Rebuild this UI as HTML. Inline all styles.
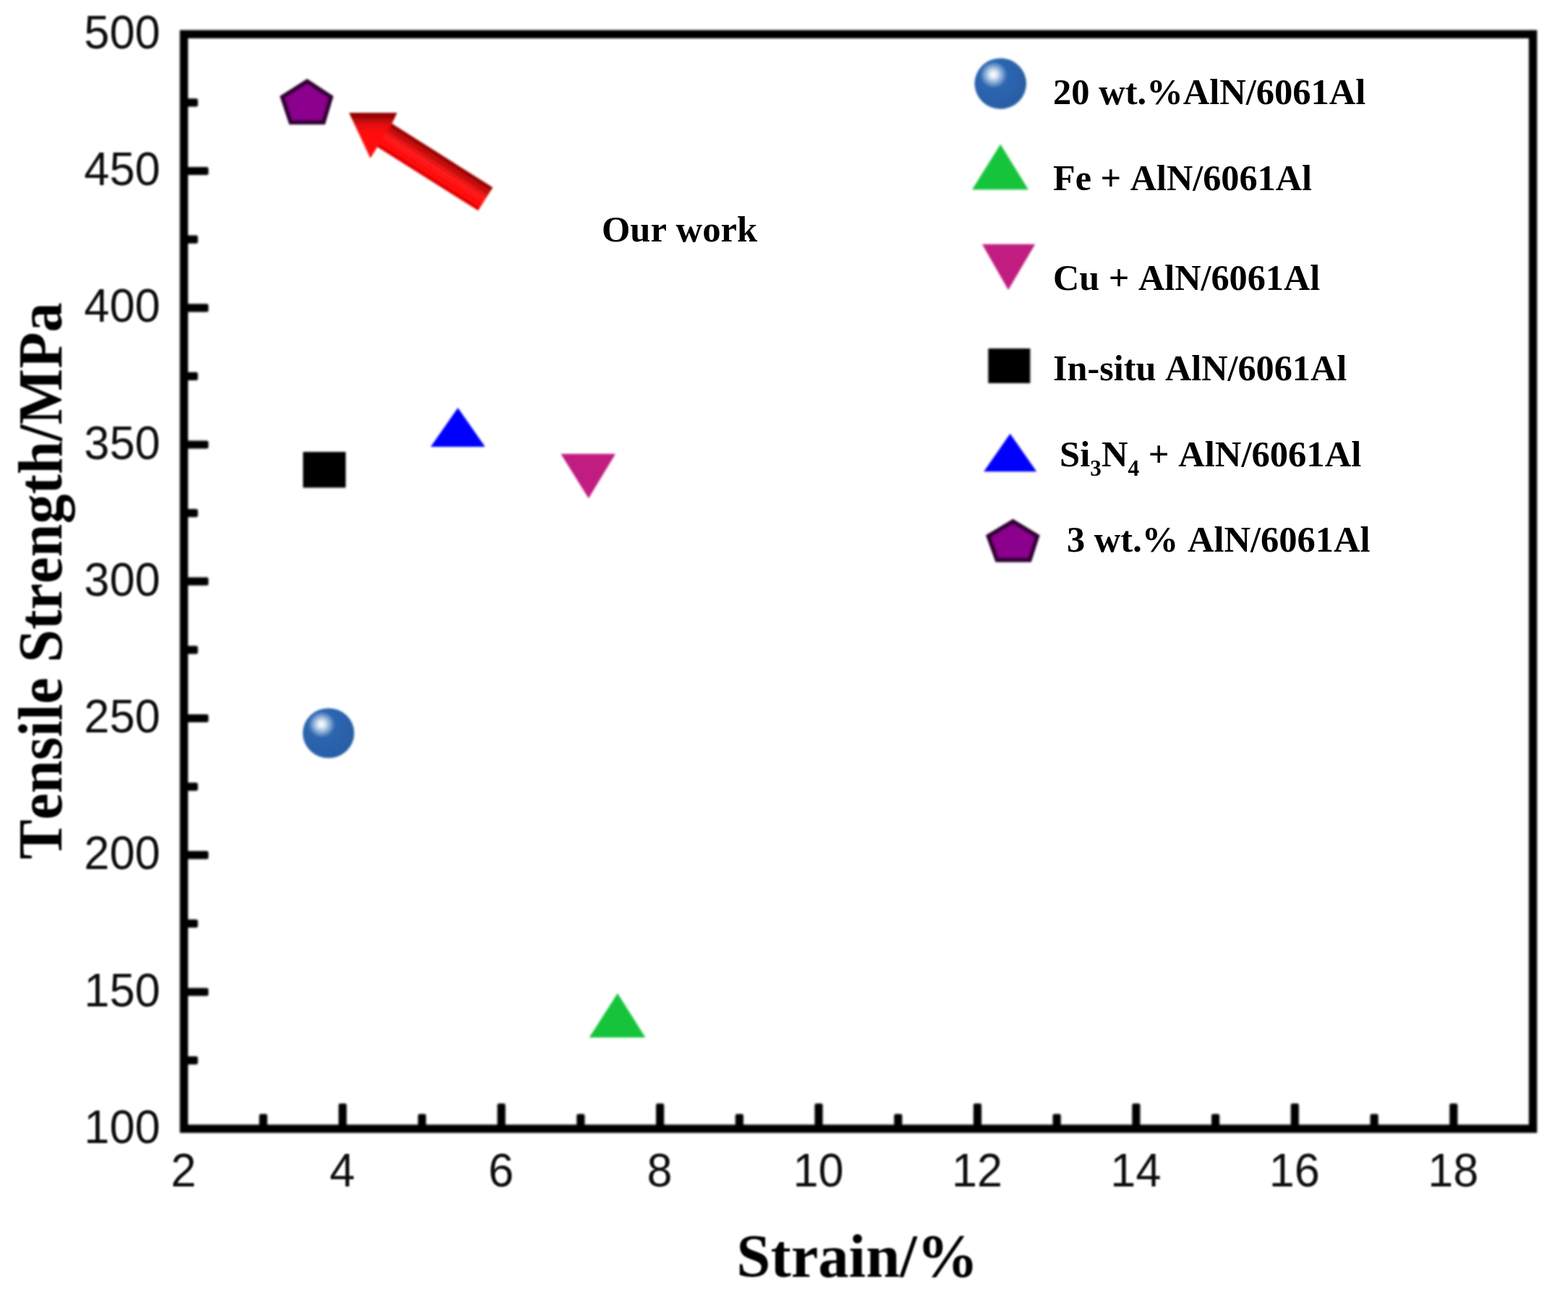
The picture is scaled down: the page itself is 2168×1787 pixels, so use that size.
<!DOCTYPE html>
<html lang="en">
<head>
<meta charset="utf-8">
<title>Tensile Strength vs Strain</title>
<style>
html,body{margin:0;padding:0;background:#fff;}
body{width:2168px;height:1787px;overflow:hidden;}
svg{display:block;}
.tick{font-family:"Liberation Sans",Arial,sans-serif;font-size:64px;fill:#0c0c0c;font-kerning:none;}
.lab{font-family:"Liberation Serif","Times New Roman",serif;font-weight:bold;fill:#000;font-kerning:none;}
.leg{font-size:50px;}
.ax{font-size:86px;}
</style>
</head>
<body>
<svg width="2168" height="1787" viewBox="0 0 2168 1787">
<defs>
<filter id="soft" x="-5%" y="-5%" width="110%" height="110%"><feGaussianBlur stdDeviation="1.4"/></filter>
<filter id="softk" x="-5%" y="-5%" width="110%" height="110%"><feGaussianBlur stdDeviation="1.0"/></filter>
<filter id="softm" x="-20%" y="-20%" width="140%" height="140%"><feGaussianBlur stdDeviation="1.6"/></filter>
<filter id="softt" x="-5%" y="-20%" width="110%" height="140%"><feGaussianBlur stdDeviation="0.8"/></filter>
<radialGradient id="sph" cx="0.38" cy="0.34" r="0.62" fx="0.36" fy="0.32">
<stop offset="0" stop-color="#ffffff"/>
<stop offset="0.1" stop-color="#e4ecf5"/>
<stop offset="0.28" stop-color="#7ba2d2"/>
<stop offset="0.42" stop-color="#2c66b0"/>
<stop offset="1" stop-color="#285fa6"/>
</radialGradient>
<linearGradient id="shaft" gradientUnits="userSpaceOnUse" x1="0" y1="-19" x2="0" y2="19">
<stop offset="0" stop-color="#8e0000"/>
<stop offset="0.25" stop-color="#c80d0d"/>
<stop offset="0.5" stop-color="#ff1c1c"/>
<stop offset="0.8" stop-color="#ff0a0a"/>
<stop offset="1" stop-color="#d80000"/>
</linearGradient>
<linearGradient id="head" gradientUnits="userSpaceOnUse" x1="0" y1="156" x2="0" y2="219">
<stop offset="0" stop-color="#8a0000"/>
<stop offset="0.12" stop-color="#a80606"/>
<stop offset="0.28" stop-color="#e80c0c"/>
<stop offset="0.45" stop-color="#ff1010"/>
<stop offset="1" stop-color="#ff0505"/>
</linearGradient>
</defs>
<rect x="0" y="0" width="2168" height="1787" fill="#ffffff"/>

<g filter="url(#soft)" fill="none" stroke="#000" stroke-width="11.4">
<rect x="254.3" y="47.3" width="1865.2" height="1513.9" stroke-linejoin="miter"/>
<rect x="254.3" y="1461.0" width="19.3" height="11.2" rx="2.5" fill="#000" stroke="none"/>
<rect x="254.3" y="1366.4" width="33.9" height="11.2" rx="2.5" fill="#000" stroke="none"/>
<rect x="254.3" y="1271.7" width="19.3" height="11.2" rx="2.5" fill="#000" stroke="none"/>
<rect x="254.3" y="1177.1" width="33.9" height="11.2" rx="2.5" fill="#000" stroke="none"/>
<rect x="254.3" y="1082.5" width="19.3" height="11.2" rx="2.5" fill="#000" stroke="none"/>
<rect x="254.3" y="987.9" width="33.9" height="11.2" rx="2.5" fill="#000" stroke="none"/>
<rect x="254.3" y="893.3" width="19.3" height="11.2" rx="2.5" fill="#000" stroke="none"/>
<rect x="254.3" y="798.6" width="33.9" height="11.2" rx="2.5" fill="#000" stroke="none"/>
<rect x="254.3" y="704.0" width="19.3" height="11.2" rx="2.5" fill="#000" stroke="none"/>
<rect x="254.3" y="609.4" width="33.9" height="11.2" rx="2.5" fill="#000" stroke="none"/>
<rect x="254.3" y="514.8" width="19.3" height="11.2" rx="2.5" fill="#000" stroke="none"/>
<rect x="254.3" y="420.2" width="33.9" height="11.2" rx="2.5" fill="#000" stroke="none"/>
<rect x="254.3" y="325.6" width="19.3" height="11.2" rx="2.5" fill="#000" stroke="none"/>
<rect x="254.3" y="230.9" width="33.9" height="11.2" rx="2.5" fill="#000" stroke="none"/>
<rect x="254.3" y="136.3" width="19.3" height="11.2" rx="2.5" fill="#000" stroke="none"/>
<rect x="358.4" y="1540.8" width="11.2" height="20.4" rx="2.5" fill="#000" stroke="none"/>
<rect x="468.1" y="1526.3" width="11.2" height="34.9" rx="2.5" fill="#000" stroke="none"/>
<rect x="577.9" y="1540.8" width="11.2" height="20.4" rx="2.5" fill="#000" stroke="none"/>
<rect x="687.6" y="1526.3" width="11.2" height="34.9" rx="2.5" fill="#000" stroke="none"/>
<rect x="797.3" y="1540.8" width="11.2" height="20.4" rx="2.5" fill="#000" stroke="none"/>
<rect x="907.0" y="1526.3" width="11.2" height="34.9" rx="2.5" fill="#000" stroke="none"/>
<rect x="1016.7" y="1540.8" width="11.2" height="20.4" rx="2.5" fill="#000" stroke="none"/>
<rect x="1126.4" y="1526.3" width="11.2" height="34.9" rx="2.5" fill="#000" stroke="none"/>
<rect x="1236.2" y="1540.8" width="11.2" height="20.4" rx="2.5" fill="#000" stroke="none"/>
<rect x="1345.9" y="1526.3" width="11.2" height="34.9" rx="2.5" fill="#000" stroke="none"/>
<rect x="1455.6" y="1540.8" width="11.2" height="20.4" rx="2.5" fill="#000" stroke="none"/>
<rect x="1565.3" y="1526.3" width="11.2" height="34.9" rx="2.5" fill="#000" stroke="none"/>
<rect x="1675.0" y="1540.8" width="11.2" height="20.4" rx="2.5" fill="#000" stroke="none"/>
<rect x="1784.7" y="1526.3" width="11.2" height="34.9" rx="2.5" fill="#000" stroke="none"/>
<rect x="1894.5" y="1540.8" width="11.2" height="20.4" rx="2.5" fill="#000" stroke="none"/>
<rect x="2004.2" y="1526.3" width="11.2" height="34.9" rx="2.5" fill="#000" stroke="none"/>
</g>
<g class="tick" filter="url(#softk)">
<text class="tick" transform="translate(221.5,1580.8) scale(0.985,1.0)" text-anchor="end">100</text>
<text class="tick" transform="translate(221.5,1391.6) scale(0.985,1.0)" text-anchor="end">150</text>
<text class="tick" transform="translate(221.5,1202.3) scale(0.985,1.0)" text-anchor="end">200</text>
<text class="tick" transform="translate(221.5,1013.1) scale(0.985,1.0)" text-anchor="end">250</text>
<text class="tick" transform="translate(221.5,823.9) scale(0.985,1.0)" text-anchor="end">300</text>
<text class="tick" transform="translate(221.5,634.6) scale(0.985,1.0)" text-anchor="end">350</text>
<text class="tick" transform="translate(221.5,445.4) scale(0.985,1.0)" text-anchor="end">400</text>
<text class="tick" transform="translate(221.5,256.1) scale(0.985,1.0)" text-anchor="end">450</text>
<text class="tick" transform="translate(221.5,66.9) scale(0.985,1.0)" text-anchor="end">500</text>
<text class="tick" transform="translate(253.8,1641.0) scale(0.985,1.0)" text-anchor="middle">2</text>
<text class="tick" transform="translate(473.2,1641.0) scale(0.985,1.0)" text-anchor="middle">4</text>
<text class="tick" transform="translate(692.7,1641.0) scale(0.985,1.0)" text-anchor="middle">6</text>
<text class="tick" transform="translate(912.1,1641.0) scale(0.985,1.0)" text-anchor="middle">8</text>
<text class="tick" transform="translate(1131.5,1641.0) scale(0.985,1.0)" text-anchor="middle">10</text>
<text class="tick" transform="translate(1351.0,1641.0) scale(0.985,1.0)" text-anchor="middle">12</text>
<text class="tick" transform="translate(1570.4,1641.0) scale(0.985,1.0)" text-anchor="middle">14</text>
<text class="tick" transform="translate(1789.8,1641.0) scale(0.985,1.0)" text-anchor="middle">16</text>
<text class="tick" transform="translate(2009.3,1641.0) scale(0.985,1.0)" text-anchor="middle">18</text>
</g>
<g class="lab" filter="url(#softt)">
<text class="lab ax" transform="translate(85.3,803.5) rotate(-90) scale(0.957,1.0)" text-anchor="middle">Tensile Strength/MPa</text>
<text class="lab ax" transform="translate(1185.4,1765.5) scale(0.985,0.985)" text-anchor="middle">Strain/%</text>
</g>
<g class="lab">
<text class="lab leg" transform="translate(832.0,334.0) scale(1.012,1.02)" text-anchor="start">Our work</text>
<text class="lab leg" transform="translate(1456.0,143.5) scale(1.011,1.0)" text-anchor="start">20 wt.%AlN/6061Al</text>
<text class="lab leg" transform="translate(1456.0,262.6) scale(1.005,1.0)" text-anchor="start">Fe + AlN/6061Al</text>
<text class="lab leg" transform="translate(1456.0,400.9) scale(1.005,1.0)" text-anchor="start">Cu + AlN/6061Al</text>
<text class="lab leg" transform="translate(1456.0,526.0) scale(1.005,1.0)" text-anchor="start">In-situ AlN/6061Al</text>
<text class="lab leg" transform="translate(1465.0,644.5) scale(1.012,1.0)" text-anchor="start">Si<tspan font-size="31" dy="13.5">3</tspan><tspan dy="-13.5">N</tspan><tspan font-size="31" dy="13.5">4</tspan><tspan dy="-13.5"> + AlN/6061Al</tspan></text>
<text class="lab leg" transform="translate(1475.0,763.3) scale(1.01,1.0)" text-anchor="start">3 wt.% AlN/6061Al</text>
</g>
<g filter="url(#softm)">
<polygon points="424.6,112.6 457.6,134.3 447.2,169.2 402.0,169.2 390.4,134.3" fill="#8b058d" stroke="#2e0630" stroke-width="6" stroke-linejoin="miter"/>
<polygon points="1400.6,721.3 1434.2,741.6 1423.6,774.6 1378.6,774.6 1366.6,741.6" fill="#8b058d" stroke="#2e0630" stroke-width="6" stroke-linejoin="miter"/>
<rect x="419" y="625" width="59" height="49.5" fill="#000"/>
<rect x="1366.4" y="482" width="58" height="48" fill="#000"/>
<polygon points="633.1,564.1 670.8,618.0 595.4,618.0" fill="#0000ff"/>
<polygon points="1396.6,599.8 1433.3,652.2 1360.2,652.2" fill="#0000ff"/>
<polygon points="775.4,627.7 851.0,627.7 813.8,689.2" fill="#c11f80"/>
<polygon points="1358.0,337.8 1431.2,337.8 1394.1,401.0" fill="#c11f80"/>
<polygon points="853.9,1373.8 892.4,1435.1 814.7,1435.1" fill="#17c43a"/>
<polygon points="1383.3,199.5 1421.9,262.2 1344.1,262.2" fill="#17c43a"/>
<ellipse cx="454.2" cy="1014" rx="35.6" ry="34.6" fill="url(#sph)"/>
<ellipse cx="1383.3" cy="115.6" rx="35.8" ry="35.2" fill="url(#sph)"/>
<g transform="translate(482.6,156.0) rotate(32.31)">
<polygon points="51.2,-19 223.2,-19 223.2,19 51.2,19" fill="url(#shaft)"/>
</g>
<polygon points="482.6,156 549.1,156 541.5,172 520,206 512,218.7" fill="url(#head)"/>
</g>
</svg>
</body>
</html>
